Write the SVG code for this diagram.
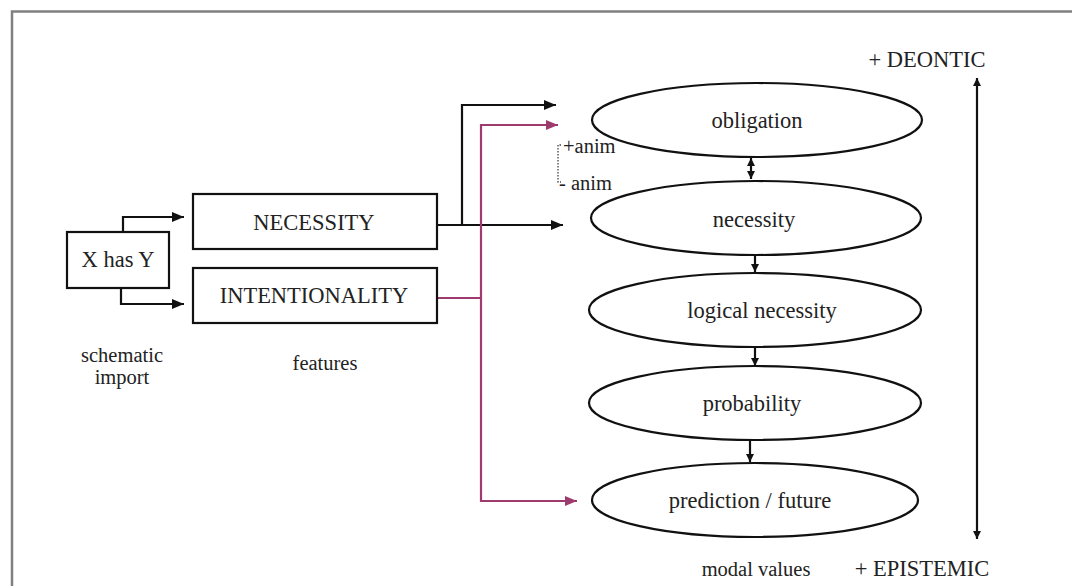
<svg xmlns="http://www.w3.org/2000/svg" width="1072" height="586" viewBox="0 0 1072 586">
<style>
  text { font-family: "Liberation Serif", "Times New Roman", serif; fill: #222; }
  .box { fill: #fff; stroke: #111; stroke-width: 2.2; }
  .ell { fill: #fff; stroke: #111; stroke-width: 2.2; }
  .blk { fill: none; stroke: #111; stroke-width: 2.2; }
  .pur { fill: none; stroke: #9e3b6e; stroke-width: 2.2; }
  .t22 { font-size: 22.5px; }
  .t20 { font-size: 20.5px; }
</style>
<defs>
  <marker id="ab" markerWidth="12" markerHeight="10" refX="12" refY="5" orient="auto" markerUnits="userSpaceOnUse">
    <path d="M0,0 L12,5 L0,10 Z" fill="#111"/>
  </marker>
  <marker id="abs" markerWidth="12" markerHeight="10" refX="0" refY="5" orient="auto" markerUnits="userSpaceOnUse">
    <path d="M12,0 L0,5 L12,10 Z" fill="#111"/>
  </marker>
  <marker id="ap" markerWidth="12" markerHeight="10" refX="12" refY="5" orient="auto" markerUnits="userSpaceOnUse">
    <path d="M0,0 L12,5 L0,10 Z" fill="#9e3b6e"/>
  </marker>
  <marker id="sm" markerWidth="8" markerHeight="8" refX="8" refY="4" orient="auto" markerUnits="userSpaceOnUse">
    <path d="M0,0 L8,4 L0,8 Z" fill="#111"/>
  </marker>
  <marker id="sms" markerWidth="8" markerHeight="8" refX="0" refY="4" orient="auto" markerUnits="userSpaceOnUse">
    <path d="M8,0 L0,4 L8,8 Z" fill="#111"/>
  </marker>
</defs>
<rect width="1072" height="586" fill="#fff"/>
<path d="M12,600 L12,11.5 L1080,11.5" fill="none" stroke="#808080" stroke-width="2.5"/>

<g id="connectors">
  <polyline class="blk" points="123,232 123,217 184,217" marker-end="url(#ab)"/>
  <polyline class="blk" points="121,288 121,304 184,304" marker-end="url(#ab)"/>
  <line class="blk" x1="437" y1="225" x2="563" y2="225" marker-end="url(#ab)"/>
  <polyline class="blk" points="462,225 462,105 556,105" marker-end="url(#ab)"/>
  <line class="pur" x1="437" y1="298" x2="481" y2="298"/>
  <polyline class="pur" points="481,298 481,125 558,125" marker-end="url(#ap)"/>
  <polyline class="pur" points="481,298 481,501 577,501" marker-end="url(#ap)"/>
  <line class="blk" x1="751" y1="158" x2="751" y2="179" stroke-width="2" marker-start="url(#sms)" marker-end="url(#sm)"/>
  <line class="blk" x1="755" y1="256" x2="755" y2="272" stroke-width="2" marker-end="url(#sm)"/>
  <line class="blk" x1="755" y1="348" x2="755" y2="366" stroke-width="2" marker-end="url(#sm)"/>
  <line class="blk" x1="750" y1="441" x2="750" y2="462" stroke-width="2" marker-end="url(#sm)"/>
  <line class="blk" x1="977" y1="78" x2="977" y2="539" stroke-width="2" marker-start="url(#sms)" marker-end="url(#sm)"/>
  <polyline points="561,145 558,145 558,182 561,182" fill="none" stroke="#444" stroke-width="1.3" stroke-dasharray="1.5,1.5"/>
</g>

<g id="x-has-y">
  <rect class="box" x="67" y="232" width="102" height="56"/>
  <text class="t22" x="118" y="267" text-anchor="middle">X has Y</text>
</g>
<g id="necessity-feature">
  <rect class="box" x="193" y="194" width="244" height="55"/>
  <text class="t22" x="314" y="230" text-anchor="middle">NECESSITY</text>
</g>
<g id="intentionality-feature">
  <rect class="box" x="193" y="268" width="244" height="55"/>
  <text class="t22" x="314" y="303" text-anchor="middle">INTENTIONALITY</text>
</g>

<g id="obligation">
  <ellipse class="ell" cx="757" cy="120" rx="165" ry="37"/>
  <text class="t22" x="757" y="128" text-anchor="middle">obligation</text>
</g>
<g id="necessity">
  <ellipse class="ell" cx="756" cy="218" rx="165" ry="37"/>
  <text class="t22" x="754" y="227" text-anchor="middle">necessity</text>
</g>
<g id="logical-necessity">
  <ellipse class="ell" cx="755" cy="310" rx="166" ry="37"/>
  <text class="t22" x="762" y="318" text-anchor="middle">logical necessity</text>
</g>
<g id="probability">
  <ellipse class="ell" cx="755" cy="403" rx="166" ry="37"/>
  <text class="t22" x="752" y="411" text-anchor="middle">probability</text>
</g>
<g id="prediction">
  <ellipse class="ell" cx="755" cy="500" rx="163" ry="37"/>
  <text class="t22" x="750" y="508" text-anchor="middle">prediction / future</text>
</g>

<g id="labels">
  <text class="t20" x="563" y="153">+anim</text>
  <text class="t20" x="559" y="190">- anim</text>
  <text class="t20" x="122" y="362" text-anchor="middle">schematic</text>
  <text class="t20" x="122" y="384" text-anchor="middle">import</text>
  <text class="t20" x="325" y="370" text-anchor="middle">features</text>
  <text class="t20" x="756" y="576" text-anchor="middle">modal values</text>
  <text class="t22" x="927" y="67" text-anchor="middle">+ DEONTIC</text>
  <text class="t22" x="922" y="576" text-anchor="middle">+ EPISTEMIC</text>
</g>
</svg>
